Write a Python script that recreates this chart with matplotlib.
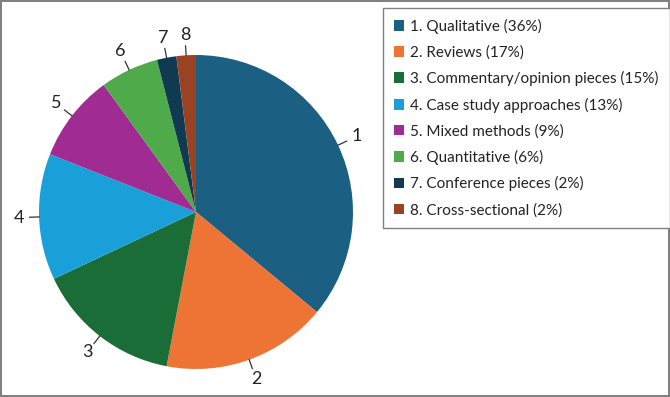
import numpy as np
import matplotlib
matplotlib.use('Agg')
import matplotlib.pyplot as plt

plt.rcParams['font.family'] = ['Lato', 'DejaVu Sans']

etiquetas = ['1. Qualitative (36%)', '2. Reviews (17%)', '3. Commentary/opinion pieces (15%)',
             '4. Case study approaches (13%)', '5. Mixed methods (9%)', '6. Quantitative (6%)',
             '7. Conference pieces (2%)', '8. Cross-sectional (2%)']
numeros = ['1', '2', '3', '4', '5', '6', '7', '8']
valores = [36, 17, 15, 13, 9, 6, 2, 2]
colores = ['#1b6082', '#ed7435', '#1b6d37', '#1aa0d8', '#a02c93', '#4fab4a', '#0f3a52', '#9a4324']

fig = plt.figure(figsize=(6.7, 3.97), dpi=100)
fig.patch.set_edgecolor('#808080')
fig.patch.set_linewidth(1.5)

# pie centre ~ (196, 212) px, radius ~157 px
R = 157
lim = 1.3
half = R * lim
ax = fig.add_axes([(196 - half) / 670, (397 - 212 - half) / 397, 2 * half / 670, 2 * half / 397])
wedges, _ = ax.pie(valores, colors=colores, startangle=90, counterclock=False,
                   wedgeprops=dict(linewidth=0))
ax.set_xlim(-lim, lim)
ax.set_ylim(-lim, lim)
ax.set_aspect('equal')
ax.axis('off')

for w, num in zip(wedges, numeros):
    ang = np.deg2rad((w.theta1 + w.theta2) / 2)
    c, s = np.cos(ang), np.sin(ang)
    ax.plot([1.0 * c, 1.06 * c], [1.0 * s, 1.06 * s], color='#333333', lw=0.9, clip_on=False)
    ax.text(1.13 * c, 1.13 * s, num, ha='center', va='center', fontsize=13, color='#222222')

leg = fig.legend(wedges, etiquetas, loc='upper left', bbox_to_anchor=(383 / 670, 1 - 8 / 397),
                 borderaxespad=0, fancybox=False, edgecolor='#808080', fontsize=11,
                 handlelength=0.7, handleheight=0.7, handletextpad=0.4, labelspacing=0.75,
                 borderpad=0.7, framealpha=1)
leg.get_frame().set_linewidth(1.0)
for t in leg.get_texts():
    t.set_color('#222222')

fig.savefig('out.png', dpi=100)
